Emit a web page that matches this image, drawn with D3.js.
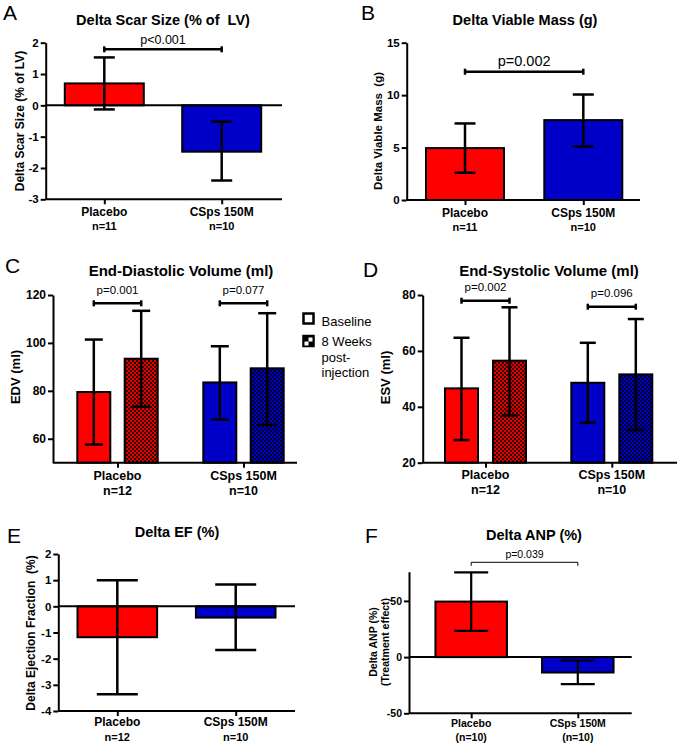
<!DOCTYPE html>
<html><head><meta charset="utf-8">
<script src="https://cdn.jsdelivr.net/npm/d3@7"></script>
<style>
body{margin:0;background:#fff}
svg text{font-family:"Liberation Sans",Arial,Helvetica,sans-serif}
</style></head><body>
<svg id="fig" width="680" height="748" xmlns="http://www.w3.org/2000/svg"></svg>
<script>
// ---------- DATA ----------
const categories = ["Placebo", "CSps 150M"];
const series = ["Baseline", "8 Weeks post-injection"];
const legendLines = [["Baseline"], ["8 Weeks", "post-", "injection"]];
const nA = ["n=11", "n=10"];
const nB = ["n=11", "n=10"];
const nC = ["n=12", "n=10"];
const nD = ["n=12", "n=10"];
const nE = ["n=12", "n=10"];
const nF = ["(n=10)", "(n=10)"];

const scarMean = [0.70, -1.48], scarLow = [-0.13, -2.40], scarHigh = [1.53, -0.52];
const viableMean = [4.95, 7.62], viableLow = [2.6, 5.1], viableHigh = [7.3, 10.06];
const edvBase = [79.5, 83.5], edvBaseLow = [57.6, 68.0], edvBaseHigh = [101.4, 98.6];
const edvWk8 = [93.4, 89.4], edvWk8Low = [73.4, 65.8], edvWk8High = [113.4, 112.4];
const esvBase = [46.6, 48.6], esvBaseLow = [28.1, 34.3], esvBaseHigh = [64.7, 62.9];
const esvWk8 = [56.5, 51.6], esvWk8Low = [36.9, 31.7], esvWk8High = [75.6, 71.4];
const efMean = [-1.18, -0.43], efLow = [-3.36, -1.67], efHigh = [1.0, 0.83];
const anpMean = [49.4, -13.7], anpLow = [23.4, -24.0], anpHigh = [75.4, -3.0];

const ticksA = [-3, -2, -1, 0, 1, 2];
const ticksB = [0, 5, 10, 15];
const ticksC = [60, 80, 100, 120];
const ticksD = [20, 40, 60, 80];
const ticksE = [-4, -3, -2, -1, 0, 1, 2];
const ticksF = [-50, 0, 50];

const pA = "p<0.001", pB = "p=0.002", pC = ["p=0.001", "p=0.077"], pD = ["p=0.002", "p=0.096"], pF = "p=0.039";

// ---------- STYLE / LAYOUT ----------
const FONT = '"Liberation Sans", Arial, Helvetica, sans-serif';
const RED = "#ff0000", BLUE = "#0000c8";
const svg = d3.select("#fig");

const defs = svg.append("defs");
function checker(id, c1, c2) {
  const p = defs.append("pattern").attr("id", id).attr("width", 4).attr("height", 4)
    .attr("patternUnits", "userSpaceOnUse");
  p.append("rect").attr("width", 4).attr("height", 4).attr("fill", c1);
  p.append("rect").attr("width", 2).attr("height", 2).attr("fill", c2);
  p.append("rect").attr("x", 2).attr("y", 2).attr("width", 2).attr("height", 2).attr("fill", c2);
}
checker("chkRed", "#e00000", "#3a0000");
checker("chkBlue", "#0000c0", "#000030");

function txt(g, x, y, s, fs, opts = {}) {
  return g.append("text").attr("x", x).attr("y", y).text(s)
    .attr("font-size", fs).attr("font-family", FONT)
    .attr("font-weight", opts.bold ? "bold" : "normal")
    .attr("text-anchor", opts.anchor || "middle")
    .style("white-space", "pre").attr("fill", "#000");
}

function frame(g, L, y, x) {
  txt(g, L.letterX, L.letterY, L.letter, 21, {anchor: "start"});
  txt(g, L.titleX, L.titleY, L.title, L.titleFs, {bold: true});
  const ay = g.append("g").attr("transform", `translate(${L.axisX},0)`)
    .call(d3.axisLeft(y).tickValues(L.ticks).tickFormat(d => String(d))
      .tickSize(5).tickSizeOuter(0).tickPadding(2));
  ay.attr("font-family", FONT).attr("font-size", L.tickFs).attr("font-weight", "bold");
  ay.select(".domain").attr("stroke-width", 2).attr("stroke", "#000");
  ay.selectAll(".tick line").attr("stroke-width", 2).attr("stroke", "#000");
  ay.selectAll(".tick text").attr("fill", "#000");
  const yb = y(L.yDomain[0]);
  g.append("line").attr("x1", L.axisX).attr("x2", L.axisEnd).attr("y1", yb).attr("y2", yb)
    .attr("stroke", "#000").attr("stroke-width", 2);
  const ax = g.append("g").attr("transform", `translate(0,${yb})`)
    .call(d3.axisBottom(x).tickSize(5).tickSizeOuter(0).tickFormat(""));
  ax.select(".domain").remove();
  ax.selectAll(".tick line").attr("stroke-width", 2).attr("stroke", "#000");
  if (L.zero) {
    g.append("line").attr("x1", L.axisX).attr("x2", L.axisEnd).attr("y1", y(0)).attr("y2", y(0))
      .attr("stroke", "#000").attr("stroke-width", 2);
  }
  L.ylabel.forEach((s, i) => {
    txt(g, 0, 0, s, L.ylabelFs[i], {bold: true})
      .attr("transform", `translate(${L.ylabelX[i]},${L.ylabelY}) rotate(-90)`);
  });
  categories.forEach((c, i) => {
    txt(g, x(c), L.catY[0], c, L.catFs[0], {bold: true});
    txt(g, x(c), L.catY[1], L.nLabels[i], L.catFs[1], {bold: true});
  });
}

function errBar(g, cx, y, lo, hi, capW, sw) {
  g.append("line").attr("x1", cx).attr("x2", cx).attr("y1", y(lo)).attr("y2", y(hi))
    .attr("stroke", "#000").attr("stroke-width", sw);
  [lo, hi].forEach(v => g.append("line").attr("x1", cx - capW / 2).attr("x2", cx + capW / 2)
    .attr("y1", y(v)).attr("y2", y(v)).attr("stroke", "#000").attr("stroke-width", sw));
}

function bracket(g, x1, x2, yy, tick, sw, down) {
  g.append("line").attr("x1", x1).attr("x2", x2).attr("y1", yy).attr("y2", yy)
    .attr("stroke", "#000").attr("stroke-width", sw);
  [x1, x2].forEach(xx => g.append("line").attr("x1", xx).attr("x2", xx)
    .attr("y1", down ? yy : yy - tick).attr("y2", yy + tick)
    .attr("stroke", "#000").attr("stroke-width", sw));
}

function simplePanel(L, mean, low, high, pText) {
  const g = svg.append("g");
  const y = d3.scaleLinear().domain(L.yDomain).range([L.yBottom, L.yTop]);
  const x = d3.scalePoint().domain(categories).range(L.c);
  const base = Math.max(L.yDomain[0], 0);
  const colors = [RED, BLUE];
  g.selectAll("rect.bar").data(categories).join("rect").attr("class", "bar")
    .attr("x", d => x(d) - L.barW / 2).attr("width", L.barW)
    .attr("y", (d, i) => Math.min(y(mean[i]), y(base)))
    .attr("height", (d, i) => Math.abs(y(mean[i]) - y(base)))
    .attr("fill", (d, i) => colors[i]).attr("stroke", "#000").attr("stroke-width", 2);
  frame(g, L, y, x);
  categories.forEach((c, i) => errBar(g, x(c), y, low[i], high[i], L.capW, L.errSw));
  if (pText) {
    const x1 = x(categories[0]), x2 = x(categories[1]);
    bracket(g, x1, x2, L.bracketY, L.bracketTick, L.bracketSw, L.bracketDown);
    txt(g, (x1 + x2) / 2, L.pY, pText, L.pFs);
  }
}

function groupedPanel(L, base, baseLo, baseHi, wk, wkLo, wkHi, pTexts) {
  const g = svg.append("g");
  const y = d3.scaleLinear().domain(L.yDomain).range([L.yBottom, L.yTop]);
  const x = d3.scalePoint().domain(categories).range(L.c);
  const xs = d3.scalePoint().domain(series).range([-L.offset, L.offset]);
  const vals = [[base, baseLo, baseHi], [wk, wkLo, wkHi]];
  const fills = [[RED, BLUE], ["url(#chkRed)", "url(#chkBlue)"]];
  series.forEach((s, si) => {
    g.selectAll(`rect.s${si}`).data(categories).join("rect").attr("class", `s${si}`)
      .attr("x", d => x(d) + xs(s) - L.barW / 2).attr("width", L.barW)
      .attr("y", (d, i) => y(vals[si][0][i]))
      .attr("height", (d, i) => y(L.yDomain[0]) - y(vals[si][0][i]))
      .attr("fill", (d, i) => fills[si][i]).attr("stroke", "#000").attr("stroke-width", 2);
  });
  frame(g, L, y, x);
  series.forEach((s, si) => categories.forEach((c, i) =>
    errBar(g, x(c) + xs(s), y, vals[si][1][i], vals[si][2][i], L.capW, L.errSw)));
  categories.forEach((c, i) => {
    const x1 = x(c) + xs(series[0]), x2 = x(c) + xs(series[1]);
    bracket(g, x1, x2, L.bracketY[i], 3, 2.5, false);
    txt(g, (x1 + x2) / 2, L.bracketY[i] - 9.5, pTexts[i], L.pFs);
  });
  return g;
}

// ---------- PANELS ----------
simplePanel({letter: "A", letterX: 3, letterY: 20, title: "Delta Scar Size (% of  LV)", titleX: 163, titleY: 25, titleFs: 14.5,
  yDomain: [-3, 2], yTop: 42.7, yBottom: 199.3, axisX: 45.7, axisEnd: 282, c: [104.3, 221.7], barW: 79, capW: 21, errSw: 2.5,
  ticks: ticksA, tickFs: 11.5, ylabel: ["Delta Scar Size (% of LV)"], ylabelX: [23.5], ylabelY: 121, ylabelFs: [12],
  catY: [216, 230], catFs: [12, 11], nLabels: nA, zero: true,
  bracketY: 49.3, bracketTick: 3, bracketSw: 2.5, bracketDown: false, pY: 44, pFs: 12.5},
  scarMean, scarLow, scarHigh, pA);

simplePanel({letter: "B", letterX: 361, letterY: 20, title: "Delta Viable Mass (g)", titleX: 525, titleY: 25, titleFs: 14.5,
  yDomain: [0, 15], yTop: 42.7, yBottom: 200, axisX: 406.7, axisEnd: 640, c: [465, 583.3], barW: 78, capW: 21, errSw: 2.5,
  ticks: ticksB, tickFs: 11.5, ylabel: ["Delta Viable Mass  (g)"], ylabelX: [382], ylabelY: 131, ylabelFs: [11.5],
  catY: [217, 231], catFs: [12, 11], nLabels: nB, zero: false,
  bracketY: 71.7, bracketTick: 3, bracketSw: 2.5, bracketDown: false, pY: 66, pFs: 14.5},
  viableMean, viableLow, viableHigh, pB);

const gC = groupedPanel({letter: "C", letterX: 5, letterY: 273, title: "End-Diastolic Volume (ml)", titleX: 181, titleY: 276, titleFs: 15,
  yDomain: [50, 120], yTop: 295, yBottom: 462.7, axisX: 53, axisEnd: 297, c: [117.5, 243.5], offset: 23.7, barW: 33, capW: 18, errSw: 2.5,
  ticks: ticksC, tickFs: 12, ylabel: ["EDV (ml)"], ylabelX: [20], ylabelY: 377, ylabelFs: [13],
  catY: [480, 495], catFs: [12.5, 12.5], nLabels: nC, zero: false, bracketY: [303.3, 303.3], pFs: 11.5},
  edvBase, edvBaseLow, edvBaseHigh, edvWk8, edvWk8Low, edvWk8High, pC);

groupedPanel({letter: "D", letterX: 363, letterY: 277, title: "End-Systolic Volume (ml)", titleX: 549, titleY: 276, titleFs: 15,
  yDomain: [20, 80], yTop: 295, yBottom: 462.7, axisX: 422.7, axisEnd: 677, c: [485.5, 611.8], offset: 24, barW: 33, capW: 16, errSw: 2.5,
  ticks: ticksD, tickFs: 12, ylabel: ["ESV (ml)"], ylabelX: [389.5], ylabelY: 377.5, ylabelFs: [13],
  catY: [479, 494], catFs: [12.5, 12.5], nLabels: nD, zero: false, bracketY: [300.7, 306.7], pFs: 11.5},
  esvBase, esvBaseLow, esvBaseHigh, esvWk8, esvWk8Low, esvWk8High, pD);

simplePanel({letter: "E", letterX: 7, letterY: 543, title: "Delta EF (%)", titleX: 177, titleY: 536.5, titleFs: 14.5,
  yDomain: [-4, 2], yTop: 554, yBottom: 711, axisX: 58.3, axisEnd: 295, c: [117.3, 235.7], barW: 79.6, capW: 41, errSw: 2.5,
  ticks: ticksE, tickFs: 11.5, ylabel: ["Delta Ejection Fraction  (%)"], ylabelX: [35], ylabelY: 633, ylabelFs: [12],
  catY: [726, 741], catFs: [12, 11], nLabels: nE, zero: true},
  efMean, efLow, efHigh, null);

simplePanel({letter: "F", letterX: 365, letterY: 543, title: "Delta ANP (%)", titleX: 534, titleY: 539.5, titleFs: 14.5,
  yDomain: [-50, 76], yTop: 571.7, yBottom: 713.3, axisX: 409, axisEnd: 631.7, c: [471.2, 577.8], barW: 71.5, capW: 34, errSw: 2.2,
  ticks: ticksF, tickFs: 10.5, ylabel: ["Delta ANP (%)", "(Treatment effect)"], ylabelX: [377, 389], ylabelY: 642, ylabelFs: [10.5, 10.5],
  catY: [727, 741], catFs: [10.5, 10.5], nLabels: nF, zero: true,
  bracketY: 562.3, bracketTick: 3.5, bracketSw: 1, bracketDown: true, pY: 558, pFs: 10.5},
  anpMean, anpLow, anpHigh, pF);

// ---------- LEGEND (between C and D) ----------
const lg = gC.append("g");
const boxY = [312.5, 335];
const textY = [[326], [346, 361.5, 377]];
series.forEach((s, i) => {
  lg.append("rect").attr("x", 303.5).attr("y", boxY[i] + 1).attr("width", 10).attr("height", 10)
    .attr("fill", i === 0 ? "#fff" : "#000").attr("stroke", "#000").attr("stroke-width", 2.5);
  if (i === 1) {
    lg.append("rect").attr("x", 308.5).attr("y", boxY[i] + 2.5).attr("width", 4).attr("height", 4).attr("fill", "#fff");
    lg.append("rect").attr("x", 304.5).attr("y", boxY[i] + 6.5).attr("width", 4).attr("height", 4).attr("fill", "#fff");
  }
  legendLines[i].forEach((line, j) => txt(lg, 321.5, textY[i][j], line, 13, {anchor: "start"}));
});
</script>
</body></html>
